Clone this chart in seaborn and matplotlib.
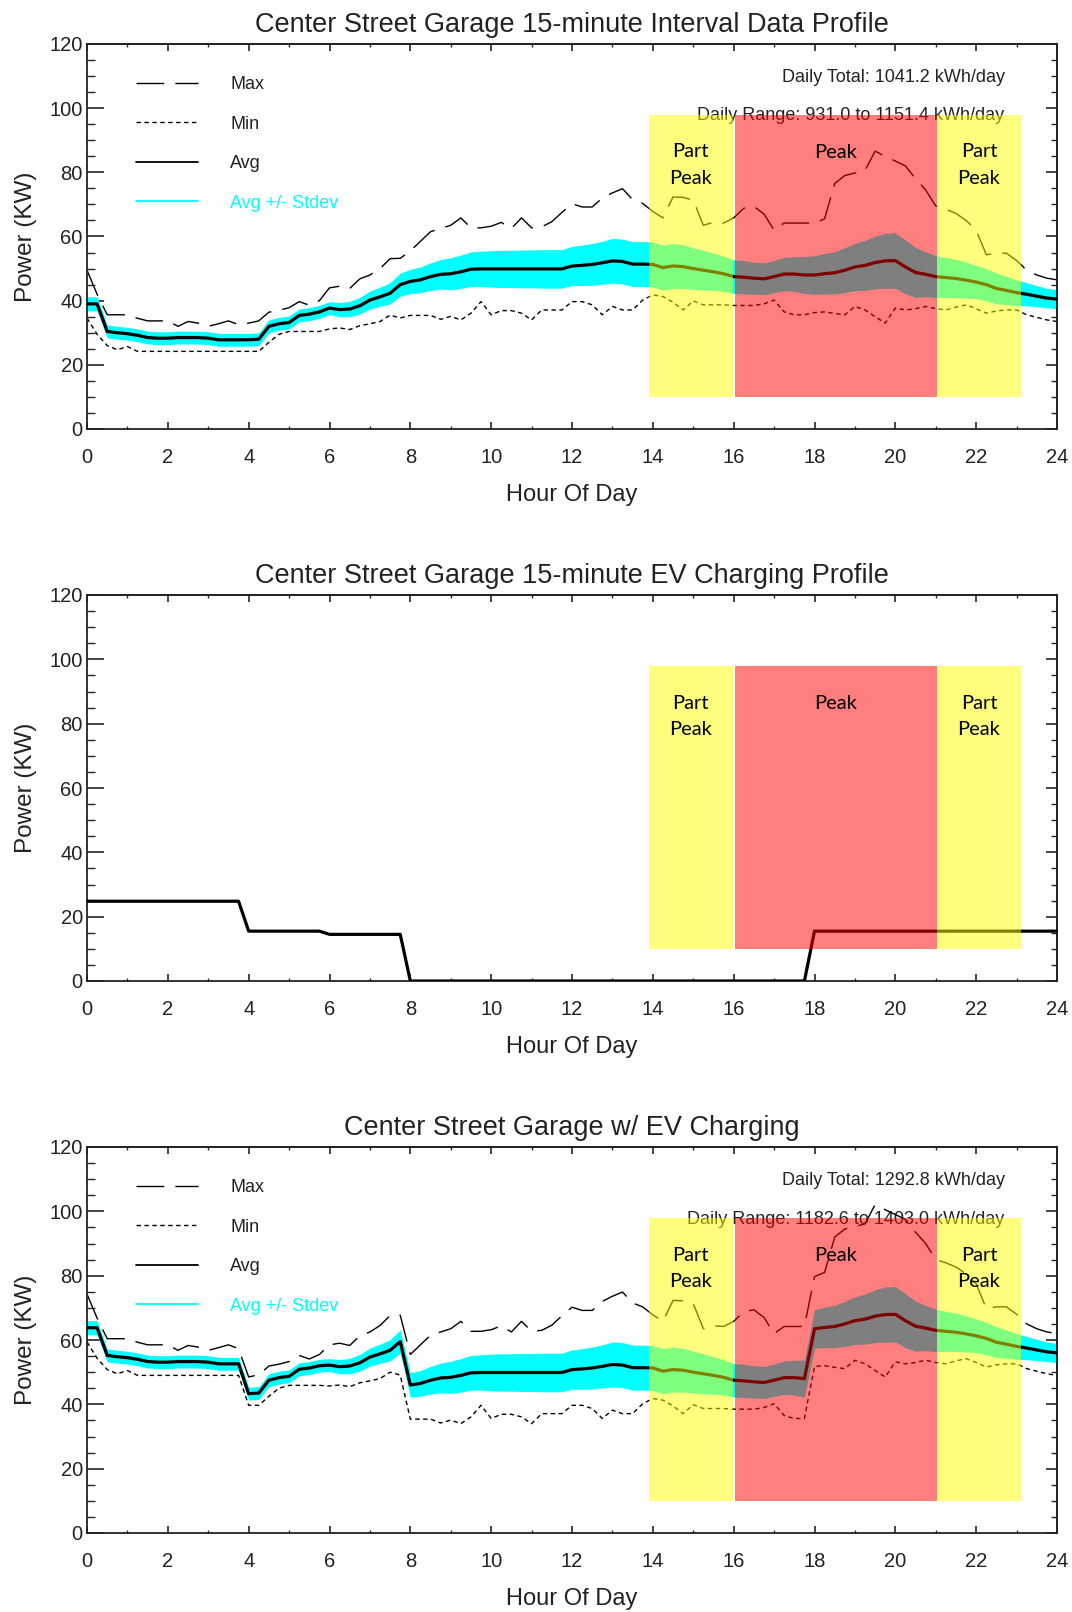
import numpy as np
import pandas as pd
import matplotlib
matplotlib.use("Agg")
import matplotlib.pyplot as plt
from matplotlib.lines import Line2D
from matplotlib.ticker import MultipleLocator
import seaborn as sns

# ---------------- data (15-minute intervals, hour of day) ----------------
hours = np.arange(97) * 0.25

garage_avg = [39.0, 39.0, 30.4, 30.0, 29.7, 29.2, 28.5, 28.3,
              28.3, 28.5, 28.5, 28.5, 28.3, 27.8, 27.8, 27.8,
              27.8, 28.0, 32.0, 32.8, 33.2, 35.4, 35.8, 36.5,
              37.7, 37.2, 37.4, 38.4, 40.2, 41.2, 42.3, 45.0,
              46.0, 46.5, 47.5, 48.2, 48.4, 49.0, 49.8, 49.9,
              49.9, 49.9, 49.9, 49.9, 49.9, 49.9, 49.9, 49.9,
              50.8, 51.0, 51.3, 51.8, 52.4, 52.2, 51.4, 51.4,
              51.3, 50.3, 50.8, 50.6, 50.0, 49.5, 49.0, 48.4,
              47.5, 47.3, 47.0, 46.8, 47.5, 48.3, 48.3, 48.0,
              48.0, 48.4, 48.7, 49.5, 50.5, 51.0, 51.9, 52.4,
              52.5, 50.5, 48.8, 48.2, 47.5, 47.2, 46.9, 46.4,
              45.8, 45.0, 43.8, 43.2, 42.5, 42.0, 41.4, 40.8,
              40.5]

garage_std = [2.2, 2.2, 2.0, 2.0, 2.0, 2.0, 2.0, 2.0,
              2.0, 2.0, 2.0, 2.0, 2.0, 2.0, 2.0, 2.0,
              2.0, 2.0, 2.0, 2.0, 2.0, 2.0, 2.0, 2.0,
              2.0, 2.2, 2.4, 2.6, 2.8, 3.0, 3.3, 3.6,
              3.8, 4.0, 4.3, 4.6, 5.0, 5.2, 5.4, 5.5,
              5.7, 5.8, 5.8, 5.9, 5.9, 6.0, 6.0, 6.0,
              6.1, 6.3, 6.5, 6.7, 7.0, 7.0, 7.0, 7.0,
              7.0, 7.0, 7.0, 6.8, 6.5, 6.2, 5.8, 5.5,
              5.2, 5.2, 5.0, 5.0, 5.0, 5.2, 5.4, 5.8,
              6.0, 6.3, 6.6, 7.0, 7.4, 7.8, 8.2, 8.6,
              8.6, 8.4, 7.8, 7.0, 6.6, 6.2, 6.0, 5.6,
              5.2, 5.0, 4.8, 4.4, 4.0, 3.6, 3.3, 3.0,
              3.0]

garage_max = [49.5, 42.0, 35.6, 35.6, 35.6, 34.5, 33.7, 33.7,
              33.7, 32.0, 33.5, 33.0, 32.0, 32.8, 33.7, 32.5,
              33.0, 33.7, 36.4, 37.0, 37.8, 39.7, 38.6, 40.0,
              44.0, 44.5, 43.8, 46.8, 48.0, 50.0, 53.1, 53.2,
              55.5, 58.5, 61.5, 62.5, 63.5, 65.8, 62.7, 62.7,
              63.2, 64.4, 62.5, 65.8, 62.7, 63.0, 64.6, 67.5,
              70.2, 69.2, 69.2, 72.0, 73.6, 74.9, 71.5, 70.3,
              67.8, 65.8, 72.3, 72.2, 71.3, 63.5, 64.4, 64.2,
              65.8, 68.8, 69.4, 67.0, 62.0, 64.2, 64.2, 64.2,
              64.2, 65.5, 76.5, 79.0, 79.8, 80.6, 86.6, 85.0,
              83.5, 82.0, 78.0, 74.5, 69.5, 68.5, 67.2, 65.0,
              62.0, 54.3, 54.8, 54.8, 52.5, 49.5, 48.0, 47.0,
              46.5]

garage_min = [34.6, 29.5, 26.0, 24.7, 25.7, 24.2, 24.2, 24.2,
              24.2, 24.2, 24.2, 24.2, 24.2, 24.2, 24.2, 24.2,
              24.2, 24.2, 27.0, 29.5, 30.4, 30.4, 30.4, 30.4,
              31.2, 31.5, 31.0, 32.2, 32.8, 33.5, 35.5, 34.6,
              35.4, 35.4, 35.4, 34.2, 35.1, 34.0, 36.1, 39.7,
              35.6, 36.9, 36.9, 36.1, 34.0, 37.1, 37.1, 37.1,
              39.7, 39.7, 38.7, 35.6, 38.2, 37.1, 37.1, 40.2,
              41.8, 41.3, 39.5, 37.1, 39.9, 38.7, 38.7, 38.7,
              38.5, 38.5, 38.5, 39.0, 40.2, 36.5, 35.6, 35.6,
              36.3, 36.5, 36.0, 35.6, 38.2, 37.1, 35.0, 33.0,
              37.7, 37.1, 37.5, 38.2, 37.5, 37.1, 38.0, 38.7,
              37.5, 36.1, 36.8, 37.1, 37.1, 35.6, 34.8, 34.0,
              33.5]

ev_charging = [24.8, 24.8, 24.8, 24.8, 24.8, 24.8, 24.8, 24.8,
               24.8, 24.8, 24.8, 24.8, 24.8, 24.8, 24.8, 24.8,
               15.5, 15.5, 15.5, 15.5, 15.5, 15.5, 15.5, 15.5,
               14.5, 14.5, 14.5, 14.5, 14.5, 14.5, 14.5, 14.5,
               0.0, 0.0, 0.0, 0.0, 0.0, 0.0, 0.0, 0.0,
               0.0, 0.0, 0.0, 0.0, 0.0, 0.0, 0.0, 0.0,
               0.0, 0.0, 0.0, 0.0, 0.0, 0.0, 0.0, 0.0,
               0.0, 0.0, 0.0, 0.0, 0.0, 0.0, 0.0, 0.0,
               0.0, 0.0, 0.0, 0.0, 0.0, 0.0, 0.0, 0.0,
               15.5, 15.5, 15.5, 15.5, 15.5, 15.5, 15.5, 15.5,
               15.5, 15.5, 15.5, 15.5, 15.5, 15.5, 15.5, 15.5,
               15.5, 15.5, 15.5, 15.5, 15.5, 15.5, 15.5, 15.5,
               15.5]

# time-of-use periods
period_labels = ["Part\nPeak", "Peak", "Part\nPeak"]
period_starts = [13.9, 16.03, 21.02]
period_ends = [15.98, 21.02, 23.12]
period_colors = ["#FFFF00", "#FF0000", "#FFFF00"]

titles = ["Center Street Garage 15-minute Interval Data Profile",
          "Center Street Garage 15-minute EV Charging Profile",
          "Center Street Garage w/ EV Charging"]
daily_totals = ["Daily Total: 1041.2 kWh/day", None, "Daily Total: 1292.8 kWh/day"]
daily_ranges = ["Daily Range: 931.0 to 1151.4 kWh/day", None,
                "Daily Range: 1182.6 to 1403.0 kWh/day"]
legend_labels = ["Max", "Min", "Avg", "Avg +/- Stdev"]

# ---------------- build frames ----------------
garage = pd.DataFrame({"hour": hours, "avg": garage_avg, "std": garage_std,
                       "max": garage_max, "min": garage_min})
ev = pd.DataFrame({"hour": hours, "avg": ev_charging})
combined = pd.DataFrame({"hour": hours,
                         "avg": garage["avg"] + ev["avg"],
                         "std": garage["std"],
                         "max": garage["max"] + ev["avg"],
                         "min": garage["min"] + ev["avg"]})

# ---------------- style ----------------
sns.set_style("ticks")
plt.rcParams["font.family"] = ["Liberation Sans", "DejaVu Sans"]

CYAN = "#00FFFF"
MAX_DASH = (20, 8)
MIN_DASH = (3.2, 2.5)
TXT = "#222222"

fig = plt.figure(figsize=(10.72, 16.12), dpi=100)
left, width = 87 / 1072, 970 / 1072
axes_pos = [(1 - 429 / 1612, 385 / 1612),
            (1 - 981 / 1612, 386 / 1612),
            (1 - 1533 / 1612, 386 / 1612)]
axs = [fig.add_axes([left, y0, width, h]) for (y0, h) in axes_pos]


def style_axis(ax, title):
    ax.set_xlim(0, 24)
    ax.set_ylim(0, 120)
    ax.xaxis.set_major_locator(MultipleLocator(2))
    ax.xaxis.set_minor_locator(MultipleLocator(1))
    ax.yaxis.set_major_locator(MultipleLocator(20))
    ax.yaxis.set_minor_locator(MultipleLocator(5))
    ax.tick_params(axis="y", which="major", direction="in", length=12, width=1.2,
                   labelsize=14.5, pad=3, left=True, right=False, labelcolor=TXT)
    ax.tick_params(axis="y", which="minor", direction="in", length=5.5, width=1.0,
                   left=True, right=False)
    ax.tick_params(axis="x", which="major", direction="in", length=5, width=1.2,
                   labelsize=14.5, pad=14, bottom=True, top=False, labelcolor=TXT)
    ax.tick_params(axis="x", which="minor", direction="in", length=2.5, width=1.0,
                   bottom=True, top=False)
    secy = ax.secondary_yaxis("right")
    secy.yaxis.set_major_locator(MultipleLocator(20))
    secy.yaxis.set_minor_locator(MultipleLocator(5))
    secy.tick_params(axis="y", which="major", direction="in", length=8, width=1.2,
                     labelright=False)
    secy.tick_params(axis="y", which="minor", direction="in", length=4.5, width=1.0)
    secx = ax.secondary_xaxis("top")
    secx.xaxis.set_major_locator(MultipleLocator(2))
    secx.xaxis.set_minor_locator(MultipleLocator(1))
    secx.tick_params(axis="x", which="major", direction="in", length=5, width=1.2,
                     labeltop=False)
    secx.tick_params(axis="x", which="minor", direction="in", length=2.5, width=1.0)
    for sp in list(ax.spines.values()) + list(secy.spines.values()) + list(secx.spines.values()):
        sp.set_linewidth(1.3)
        sp.set_color(TXT)
    ax.set_title(title, fontsize=19.5, color=TXT, pad=8.5)
    ax.set_xlabel("Hour Of Day", fontsize=17, color=TXT, labelpad=12)
    ax.set_ylabel("Power (KW)", fontsize=17.5, color=TXT, labelpad=9)


def draw_periods(ax):
    for lab, x0, x1, col in zip(period_labels, period_starts, period_ends, period_colors):
        ax.fill_between([x0, x1], 10, 98, color=col, alpha=0.5, lw=0, zorder=5)
        ypos = 86.2 if "\n" not in lab else 82.3
        ax.text((x0 + x1) / 2, ypos, lab, ha="center", va="center", fontsize=14.5,
                family=["Lato", "DejaVu Sans"], linespacing=1.65, color="black", zorder=6)


def draw_profile(ax, df, total_txt, range_txt):
    ax.fill_between(df["hour"], df["avg"] - df["std"], df["avg"] + df["std"],
                    color=CYAN, lw=0, zorder=1)
    sns.lineplot(x=df["hour"], y=df["max"], ax=ax, color="black", lw=1.0,
                 errorbar=None, sort=False, zorder=2)
    ax.lines[-1].set_dashes(MAX_DASH)
    sns.lineplot(x=df["hour"], y=df["min"], ax=ax, color="black", lw=1.0,
                 errorbar=None, sort=False, zorder=2)
    ax.lines[-1].set_dashes(MIN_DASH)
    sns.lineplot(x=df["hour"], y=df["avg"], ax=ax, color="black", lw=2.3,
                 errorbar=None, sort=False, zorder=3)
    handles = [Line2D([], [], color="black", lw=1.0, dashes=MAX_DASH),
               Line2D([], [], color="black", lw=1.0, dashes=MIN_DASH),
               Line2D([], [], color="black", lw=1.3),
               Line2D([], [], color=CYAN, lw=1.3)]
    leg = ax.legend(handles, legend_labels, loc="upper left",
                    bbox_to_anchor=(0.05, 0.917), frameon=False, fontsize=13,
                    handlelength=3.45, handletextpad=1.8, labelspacing=1.25,
                    borderpad=0, borderaxespad=0)
    for t in leg.get_texts():
        t.set_color(TXT)
    leg.get_texts()[3].set_color(CYAN)
    ax.text(0.946, 0.914, total_txt, transform=ax.transAxes, ha="right",
            va="center", fontsize=13, color=TXT, zorder=1)
    ax.text(0.946, 0.813, range_txt, transform=ax.transAxes, ha="right",
            va="center", fontsize=13, color=TXT, zorder=1)


# Panel 1: garage interval data
draw_profile(axs[0], garage, daily_totals[0], daily_ranges[0])
# Panel 2: EV charging
sns.lineplot(x=ev["hour"], y=ev["avg"], ax=axs[1], color="black", lw=2.3,
             errorbar=None, sort=False, zorder=3)
# Panel 3: combined
draw_profile(axs[2], combined, daily_totals[2], daily_ranges[2])

for ax, t in zip(axs, titles):
    draw_periods(ax)
    style_axis(ax, t)

fig.savefig("out.png", dpi=100)
